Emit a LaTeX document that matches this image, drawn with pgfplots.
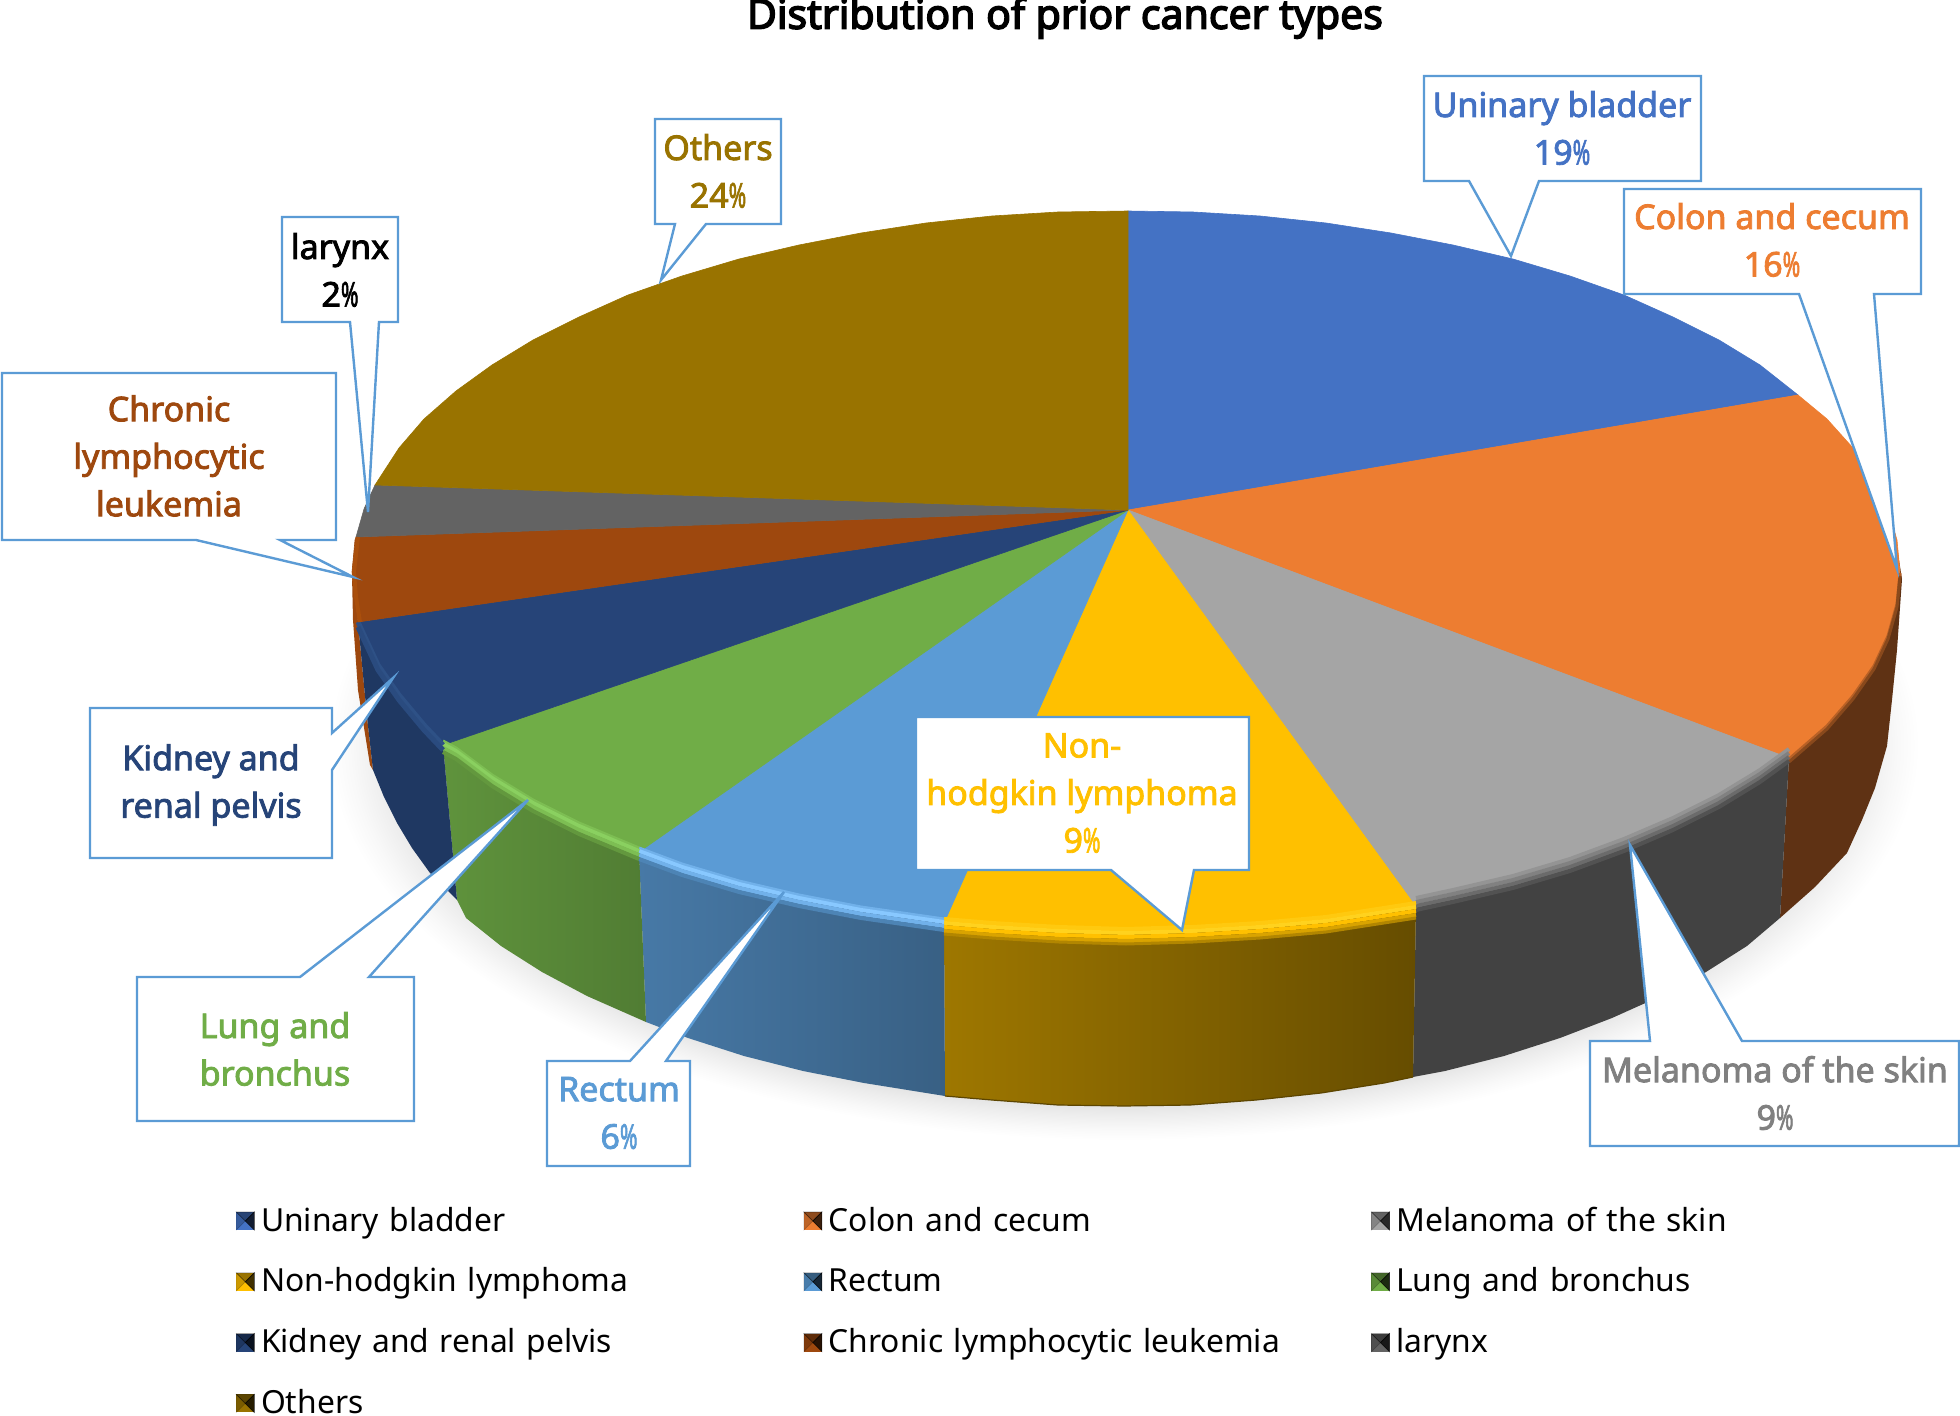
\documentclass[border=0pt]{standalone}
\usepackage{fontspec}
\usepackage{pgfplots}
\usepackage{pgfplotstable}
\pgfplotsset{compat=1.18}
\setmainfont{Noto Sans}
\newfontfamily\lab{Noto Sans}[FakeBold=2.5]
\newfontfamily\ttl{Noto Sans}[FakeBold=3.5]
\definecolor{cA}{HTML}{4472C4}
\definecolor{cB}{HTML}{ED7D31}
\definecolor{cC}{HTML}{A5A5A5}
\definecolor{cD}{HTML}{FFC000}
\definecolor{cE}{HTML}{5B9BD5}
\definecolor{cF}{HTML}{70AD47}
\definecolor{cG}{HTML}{264478}
\definecolor{cH}{HTML}{9E480E}
\definecolor{cI}{HTML}{636363}
\definecolor{cJ}{HTML}{997300}
\definecolor{ShA}{HTML}{DEDEDE}
\definecolor{hiD}{HTML}{FFD21E}
\definecolor{hiE}{HTML}{88C8FF}
\definecolor{hiF}{HTML}{8AD060}
\pgfdeclareradialshading{pieshadow}{\pgfpointorigin}{color(0bp)=(ShA);color(22.4bp)=(ShA);color(23.4bp)=(ShA!55!white);color(24.3bp)=(ShA!20!white);color(25bp)=(white);color(50bp)=(white)}
\newcommand\pct{\scalebox{0.62}[1]{\%}}
% rim arcs of the top face, pixel coordinates
\pgfplotstableread{
x y
1900 572
1897 603
1888 635
1874 665
1853 695
1827 725
1789 758
}\rimB
\pgfplotstableread{
x y
1789 758
1760 779
1719 804
1673 827
1624 848
1570 868
1513 885
1453 899
1416 907
}\rimC
\pgfplotstableread{
x y
1416 907
1326 921
1260 927
1193 931
1126 933
1059 931
992 927
944 923
}\rimD
\pgfplotstableread{
x y
944 923
861 911
799 899
739 885
682 868
639 852
}\rimE
\pgfplotstableread{
x y
639 852
579 827
533 804
492 779
456 752
443 745
}\rimF
\pgfplotstableread{
x y
443 745
424 725
399 695
378 665
364 635
358 622
}\rimG
\newcommand\rim[4]{\addplot[draw=#4,line width=#3,no markers,forget plot,line join=round] table[x=x,y expr=\thisrow{y}+#2]{#1};}
\begin{document}
\begin{tikzpicture}
\useasboundingbox (0,0) rectangle (980pt,708pt);
\begin{axis}[
  at={(0,0)},anchor=south west,
  width=980pt,height=708pt,scale only axis,
  xmin=0,xmax=1960,ymin=0,ymax=1416,y dir=reverse,
  hide axis,clip=false,
  legend columns=3,
  legend image code/.code={
    \path[#1,draw=none] (0pt,-4.5pt) rectangle (9pt,4.5pt);
    \fill[black,opacity=.40] (0pt,4.5pt)--(9pt,4.5pt)--(4.5pt,0pt)--cycle;
    \fill[black,opacity=.20] (0pt,-4.5pt)--(0pt,4.5pt)--(4.5pt,0pt)--cycle;
    \fill[black,opacity=.75] (9pt,-4.5pt)--(9pt,4.5pt)--(4.5pt,0pt)--cycle;
  },
  legend style={at={(axis cs:236,1209)},anchor=north west,draw=none,fill=none,
    font=\fontsize{15.9}{18}\selectfont,row sep=18.4pt,inner sep=0pt,outer sep=0pt,
    nodes={inner ysep=0pt,inner xsep=3.25pt,outer sep=0pt,text height=11pt,text depth=1pt,text width=268pt,align=left},
    cells={anchor=west}},
  legend cell align=left,
]
% soft shadow
\path[shading=pieshadow] (axis cs:1124,745) ellipse [x radius=795,y radius=395];

% side walls
\addplot[fill=cH,draw=none,forget plot] coordinates {(352,575)(358,622)(367,717)(373,770)(370,765)(358,690)(353,620)} --cycle;
\addplot[fill=cB!40!black,draw=none,forget plot] coordinates {(1895,535)(1902,579)(1897,650)(1892,700)(1887,746)(1875,788)(1862,820)(1847,853)(1815,887)(1780,918)(1789,758)(1853,695)(1888,635)(1900,572)} --cycle;
\addplot[fill=black!74,draw=none,forget plot] coordinates {(1789,758)(1760,779)(1719,804)(1673,827)(1624,848)(1570,868)(1513,885)(1453,899)(1416,907)(1413,1077)(1445,1071)(1504,1056)(1560,1038)(1612,1018)(1661,996)(1706,972)(1747,946)(1780,918)} --cycle;
\addplot[left color=cD!62!black,right color=cD!40!black,draw=none,forget plot] coordinates {(1416,907)(1326,921)(1193,932)(1059,932)(944,923)(945,1096)(992,1100)(1058,1105)(1124,1106)(1190,1105)(1256,1100)(1321,1093)(1384,1083)(1413,1077)} --cycle;
\addplot[left color=cE!78!black,right color=cE!62!black,draw=none,forget plot] coordinates {(944,923)(861,911)(739,885)(639,852)(646,1022)(688,1038)(744,1056)(803,1071)(864,1083)(945,1096)} --cycle;
\addplot[left color=cF!85!black,right color=cF!72!black,draw=none,forget plot] coordinates {(639,852)(533,804)(456,752)(443,745)(457,900)(466,918)(501,946)(542,972)(587,996)(646,1022)} --cycle;
\addplot[fill=cG!82!black,draw=none,forget plot] coordinates {(358,622)(364,635)(399,695)(443,745)(457,900)(430,873)(412,848)(397,823)(384,797)(373,770)(367,717)} --cycle;
\addplot[draw=cD!36!black,line width=.6pt,no markers,forget plot] coordinates {(945,1096)(992,1100)(1058,1105)(1124,1106)(1190,1105)(1256,1100)(1321,1093)(1384,1083)(1413,1077)};

% top faces
\addplot[fill=cA,draw=cA,line width=.3pt] coordinates {(1128,510)(1128,211)(1193,212)(1260,216)(1326,223)(1391,233)(1453,245)(1513,259)(1570,276)(1624,295)(1673,317)(1719,340)(1760,365)(1798,395)} --cycle;
\addlegendentry{Uninary bladder}
\addplot[fill=cB,draw=cB,line width=.3pt] coordinates {(1128,510)(1798,395)(1827,419)(1853,448)(1874,479)(1888,509)(1897,540)(1900,572)(1897,603)(1888,635)(1874,665)(1853,695)(1827,725)(1789,758)} --cycle;
\addlegendentry{Colon and cecum}
\addplot[fill=cC,draw=cC,line width=.3pt] coordinates {(1128,510)(1789,758)(1760,779)(1719,804)(1673,827)(1624,848)(1570,868)(1513,885)(1453,899)(1416,907)} --cycle;
\addlegendentry{Melanoma of the skin}
\addplot[fill=cD,draw=cD,line width=.3pt] coordinates {(1128,510)(1416,907)(1326,921)(1260,927)(1193,931)(1126,933)(1059,931)(992,927)(944,923)} --cycle;
\addlegendentry{Non-hodgkin lymphoma}
\addplot[fill=cE,draw=cE,line width=.3pt] coordinates {(1128,510)(944,923)(861,911)(799,899)(739,885)(682,868)(639,852)} --cycle;
\addlegendentry{Rectum}
\addplot[fill=cF,draw=cF,line width=.3pt] coordinates {(1128,510)(639,852)(579,827)(533,804)(492,779)(456,752)(443,745)} --cycle;
\addlegendentry{Lung and bronchus}
\addplot[fill=cG,draw=cG,line width=.3pt] coordinates {(1128,510)(443,745)(424,725)(399,695)(378,665)(364,635)(358,622)} --cycle;
\addlegendentry{Kidney and renal pelvis}
\addplot[fill=cH,draw=cH,line width=.3pt] coordinates {(1128,510)(358,622)(355,603)(352,572)(355,540)(356,537)} --cycle;
\addlegendentry{Chronic lymphocytic leukemia}
\addplot[fill=cI,draw=cI,line width=.3pt] coordinates {(1128,510)(356,537)(364,509)(375,485)} --cycle;
\addlegendentry{larynx}
\addplot[fill=cJ,draw=cJ,line width=.3pt] coordinates {(1128,510)(375,485)(399,448)(424,419)(456,391)(492,365)(533,340)(579,317)(628,295)(682,276)(739,259)(799,245)(861,233)(926,223)(992,216)(1058,212)(1128,211)} --cycle;
\addlegendentry{Others}

% rim bevel
\rim{\rimB}{1}{1.5pt}{cB!78!black}
\rim{\rimB}{4}{1.5pt}{cB!58!black}
\rim{\rimC}{-9}{2pt}{cC!90!black}
\rim{\rimC}{-5}{2pt}{cC!78!black}
\rim{\rimC}{-1}{2pt}{cC!65!black}
\rim{\rimC}{3}{2pt}{cC!50!black}
\rim{\rimD}{-4}{2pt}{hiD!50!cD}
\rim{\rimD}{0}{2pt}{hiD}
\rim{\rimD}{4}{2pt}{cD}
\rim{\rimD}{8}{2pt}{cD!85!black}
\rim{\rimD}{11}{1.5pt}{cD!70!black}
\rim{\rimE}{-4}{1.5pt}{hiE!50!cE}
\rim{\rimE}{-1}{2pt}{hiE}
\rim{\rimE}{3}{2pt}{hiE!50!cE}
\rim{\rimE}{7}{2pt}{cE!85!black}
\rim{\rimF}{-4}{1.5pt}{hiF!50!cF}
\rim{\rimF}{-1}{2pt}{hiF}
\rim{\rimF}{3}{2pt}{hiF!50!cF}
\rim{\rimF}{7}{2pt}{cF!88!black}
\rim{\rimG}{0}{2.5pt}{cG!85!cE}
\rim{\rimG}{5}{2.5pt}{cG!92!cE}
\addplot[draw=cH!88!orange,line width=2pt,no markers,forget plot] coordinates {(360,622)(356,597)(354,572)(358,537)};

% callouts
\addplot[draw=cE,fill=white,line width=1.2pt,forget plot] coordinates {(1424,76)(1701,76)(1701,181)(1539,181)(1511,256)(1469,181)(1424,181)} --cycle;
\addplot[draw=cE,fill=white,line width=1.2pt,forget plot] coordinates {(1624,189)(1921,189)(1921,294)(1874,294)(1897,569)(1799,294)(1624,294)} --cycle;
\addplot[draw=cE,fill=white,line width=1.2pt,forget plot] coordinates {(1590,1041)(1650,1041)(1630,845)(1742,1041)(1959,1041)(1959,1146)(1590,1146)} --cycle;
\addplot[draw=cE,fill=white,line width=1.2pt,forget plot] coordinates {(916,717)(1249,717)(1249,870)(1194,870)(1182,930)(1111,870)(916,870)} --cycle;
\addplot[draw=cE,fill=white,line width=1.2pt,forget plot] coordinates {(547,1061)(630,1061)(784,892)(666,1061)(690,1061)(690,1166)(547,1166)} --cycle;
\addplot[draw=cE,fill=white,line width=1.2pt,forget plot] coordinates {(137,977)(300,977)(528,800)(369,977)(414,977)(414,1121)(137,1121)} --cycle;
\addplot[draw=cE,fill=white,line width=1.2pt,forget plot] coordinates {(90,708)(332,708)(332,733)(393,678)(332,770)(332,858)(90,858)} --cycle;
\addplot[draw=cE,fill=white,line width=1.2pt,forget plot] coordinates {(2,373)(336,373)(336,540)(280,540)(353,577)(196,540)(2,540)} --cycle;
\addplot[draw=cE,fill=white,line width=1.2pt,forget plot] coordinates {(282,217)(398,217)(398,322)(379,322)(368,512)(350,322)(282,322)} --cycle;
\addplot[draw=cE,fill=white,line width=1.2pt,forget plot] coordinates {(655,119)(781,119)(781,224)(706,224)(661,280)(675,224)(655,224)} --cycle;

% texts
\tikzset{lbl/.style={align=center,inner sep=0pt,font=\lab\fontsize{17}{23.75}\selectfont}}
\node[lbl,text=cA] at (axis cs:1562,128) {Uninary bladder\\19\pct};
\node[lbl,text=cB] at (axis cs:1772,240) {Colon and cecum\\16\pct};
\node[lbl,text=black!50] at (axis cs:1775,1093) {Melanoma of the skin\\9\pct};
\node[lbl,text=cD] at (axis cs:1082,793) {Non-\\hodgkin lymphoma\\9\pct};
\node[lbl,text=cE] at (axis cs:619,1113) {Rectum\\6\pct};
\node[lbl,text=cF] at (axis cs:275,1049) {Lung and\\bronchus};
\node[lbl,text=cG] at (axis cs:211,785) {Kidney and\\renal pelvis};
\node[lbl,text=cH] at (axis cs:169,456) {Chronic\\lymphocytic\\leukemia};
\node[lbl,text=black] at (axis cs:340,270) {larynx\\2\pct};
\node[lbl,text=cJ] at (axis cs:718,171) {Others\\24\pct};
\node[inner sep=0pt,font=\ttl\fontsize{20.5}{24}\selectfont,text=black] at (axis cs:1065,18) {Distribution of prior cancer types};
\end{axis}
\end{tikzpicture}
\end{document}
